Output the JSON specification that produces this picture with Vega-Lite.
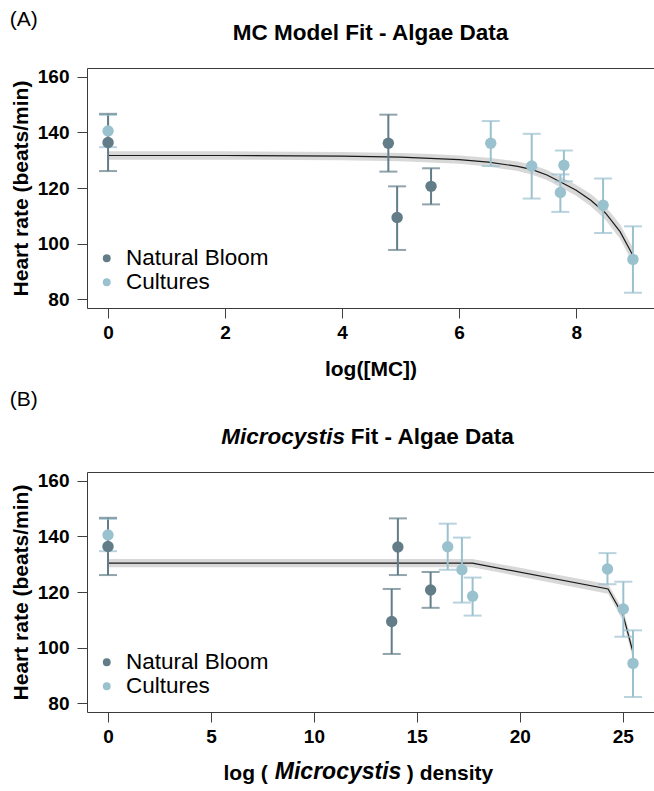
{
  "$schema": "https://vega.github.io/schema/vega-lite/v6.json",
  "background": "white",
  "padding": {"left": 9, "top": 8, "right": 0, "bottom": 0},
  "spacing": 8,
  "config": {
    "font": "Liberation Sans",
    "view": {"stroke": "#3a3a3a", "strokeWidth": 1},
    "axis": {
      "grid": false, "domain": false, "tickSize": 10, "tickColor": "#404040", "tickWidth": 1,
      "labelFont": "Liberation Sans", "labelFontSize": 19, "labelFontWeight": "bold", "labelColor": "black",
      "titleFont": "Liberation Sans", "titleFontSize": 21, "titleFontWeight": "bold", "titleColor": "black"
    },
    "axisX": {"labelPadding": 5, "titlePadding": 16},
    "axisY": {"labelPadding": 8, "titlePadding": 6},
    "title": {"font": "Liberation Sans", "color": "black"},
    "legend": {
      "orient": "none", "legendX": 8.5, "legendY": 179, "title": null,
      "symbolType": "circle", "symbolSize": 62, "symbolStrokeWidth": 0,
      "labelFont": "Liberation Sans", "labelFontSize": 22.5, "labelColor": "black",
      "labelOffset": 8, "rowPadding": 1, "padding": 0
    }
  },
  "resolve": {"scale": {"color": "independent"}, "legend": {"color": "independent"}},
  "datasets": {
    "ptsA": [
      {"group": "Cultures", "x": 0, "y": 140.5, "lo": 134.7, "hi": 146.3},
      {"group": "Cultures", "x": 6.54, "y": 136.1, "lo": 127.9, "hi": 144.1},
      {"group": "Cultures", "x": 7.24, "y": 127.9, "lo": 116.2, "hi": 139.5},
      {"group": "Cultures", "x": 7.79, "y": 128.2, "lo": 122.4, "hi": 133.5},
      {"group": "Cultures", "x": 7.73, "y": 118.4, "lo": 111.4, "hi": 124.9},
      {"group": "Cultures", "x": 8.46, "y": 113.8, "lo": 103.8, "hi": 123.4},
      {"group": "Cultures", "x": 8.97, "y": 94.3, "lo": 82.3, "hi": 106.2},
      {"group": "Natural Bloom", "x": 0, "y": 136.4, "lo": 126.1, "hi": 146.7},
      {"group": "Natural Bloom", "x": 4.79, "y": 136.1, "lo": 125.9, "hi": 146.4},
      {"group": "Natural Bloom", "x": 4.94, "y": 109.4, "lo": 97.7, "hi": 120.6},
      {"group": "Natural Bloom", "x": 5.52, "y": 120.6, "lo": 114.1, "hi": 127.1}
    ],
    "fitA": [
      {"x": 0, "fit": 131.7, "lo": 130.2, "hi": 133.2},
      {"x": 2, "fit": 131.7, "lo": 130.2, "hi": 133.2},
      {"x": 4, "fit": 131.5, "lo": 130.0, "hi": 133.0},
      {"x": 5, "fit": 131.1, "lo": 129.6, "hi": 132.6},
      {"x": 5.5, "fit": 130.7, "lo": 129.2, "hi": 132.2},
      {"x": 6, "fit": 130.2, "lo": 128.7, "hi": 131.7},
      {"x": 6.5, "fit": 129.3, "lo": 127.7, "hi": 130.9},
      {"x": 7, "fit": 127.8, "lo": 126.1, "hi": 129.5},
      {"x": 7.25, "fit": 126.6, "lo": 124.8, "hi": 128.4},
      {"x": 7.5, "fit": 124.7, "lo": 122.9, "hi": 126.5},
      {"x": 7.75, "fit": 122.0, "lo": 120.1, "hi": 123.9},
      {"x": 8, "fit": 119.2, "lo": 117.2, "hi": 121.2},
      {"x": 8.25, "fit": 115.6, "lo": 113.4, "hi": 117.8},
      {"x": 8.5, "fit": 111.0, "lo": 108.6, "hi": 113.4},
      {"x": 8.75, "fit": 104.3, "lo": 101.7, "hi": 106.9},
      {"x": 8.97, "fit": 95.7, "lo": 92.9, "hi": 98.5}
    ],
    "ptsB": [
      {"group": "Cultures", "x": 0, "y": 140.5, "lo": 134.7, "hi": 146.3},
      {"group": "Cultures", "x": 16.5, "y": 136.3, "lo": 128.0, "hi": 144.6},
      {"group": "Cultures", "x": 17.19, "y": 128.0, "lo": 116.2, "hi": 139.6},
      {"group": "Cultures", "x": 17.71, "y": 118.5, "lo": 111.5, "hi": 125.2},
      {"group": "Cultures", "x": 24.26, "y": 128.3, "lo": 122.8, "hi": 134.0},
      {"group": "Cultures", "x": 25.03, "y": 113.9, "lo": 103.9, "hi": 123.7},
      {"group": "Cultures", "x": 25.5, "y": 94.3, "lo": 82.2, "hi": 106.2},
      {"group": "Natural Bloom", "x": 0, "y": 136.4, "lo": 126.1, "hi": 146.7},
      {"group": "Natural Bloom", "x": 14.08, "y": 136.2, "lo": 126.1, "hi": 146.5},
      {"group": "Natural Bloom", "x": 13.78, "y": 109.4, "lo": 97.7, "hi": 121.1},
      {"group": "Natural Bloom", "x": 15.67, "y": 120.7, "lo": 114.3, "hi": 127.2}
    ],
    "fitB": [
      {"x": 0, "fit": 130.4, "lo": 128.9, "hi": 131.9},
      {"x": 17.7, "fit": 130.4, "lo": 128.9, "hi": 131.9},
      {"x": 24.29, "fit": 121.1, "lo": 119.4, "hi": 122.8},
      {"x": 25.03, "fit": 111.4, "lo": 109.4, "hi": 113.4},
      {"x": 25.5, "fit": 98.3, "lo": 95.9, "hi": 100.7}
    ]
  },
  "vconcat": [
    {
      "title": {"text": "(A)", "anchor": "start", "frame": "bounds", "fontSize": 21, "fontWeight": "normal", "offset": -8},
      "vconcat": [
        {
          "width": 567, "height": 240,
          "title": {"text": "MC Model Fit - Algae Data", "fontSize": 22.5, "fontWeight": "bold", "offset": 23},
          "layer": [
            {
              "data": {"name": "fitA"},
              "mark": {"type": "area", "color": "#d4d4d4", "opacity": 0.9},
              "encoding": {
                "x": {"field": "x", "type": "quantitative", "scale": {"domain": [-0.36, 9.33], "nice": false, "zero": false},
                      "axis": {"values": [0, 2, 4, 6, 8], "format": "d", "title": "log([MC])"}},
                "y": {"field": "lo", "type": "quantitative", "scale": {"domain": [76.8, 163.2], "nice": false, "zero": false},
                      "axis": {"values": [80, 100, 120, 140, 160], "title": "Heart rate (beats/min)"}},
                "y2": {"field": "hi"}
              }
            },
            {
              "data": {"name": "fitA"},
              "mark": {"type": "line", "color": "#1a1a1a", "strokeWidth": 1.2},
              "encoding": {"x": {"field": "x", "type": "quantitative"}, "y": {"field": "fit", "type": "quantitative"}}
            },
            {
              "data": {"name": "ptsA"},
              "mark": {"type": "rule", "strokeWidth": 2},
              "encoding": {
                "x": {"field": "x", "type": "quantitative"}, "y": {"field": "lo", "type": "quantitative"}, "y2": {"field": "hi"},
                "color": {"condition": {"test": "datum.group === 'Cultures'", "value": "#9ac1ce"}, "value": "#627d87"}
              }
            },
            {
              "data": {"name": "ptsA"},
              "mark": {"type": "tick", "orient": "horizontal", "size": 18, "thickness": 2},
              "encoding": {
                "x": {"field": "x", "type": "quantitative"}, "y": {"field": "lo", "type": "quantitative"},
                "color": {"condition": {"test": "datum.group === 'Cultures'", "value": "#9ac1ce"}, "value": "#627d87"}
              }
            },
            {
              "data": {"name": "ptsA"},
              "mark": {"type": "tick", "orient": "horizontal", "size": 18, "thickness": 2},
              "encoding": {
                "x": {"field": "x", "type": "quantitative"}, "y": {"field": "hi", "type": "quantitative"},
                "color": {"condition": {"test": "datum.group === 'Cultures'", "value": "#9ac1ce"}, "value": "#627d87"}
              }
            },
            {
              "data": {"name": "ptsA"},
              "mark": {"type": "circle", "size": 130, "opacity": 1},
              "encoding": {
                "x": {"field": "x", "type": "quantitative"}, "y": {"field": "y", "type": "quantitative"},
                "color": {"field": "group", "type": "nominal",
                          "scale": {"domain": ["Natural Bloom", "Cultures"], "range": ["#627d87", "#9ac1ce"]},
                          "legend": {}}
              }
            }
          ]
        }
      ]
    },
    {
      "title": {"text": "(B)", "anchor": "start", "frame": "bounds", "fontSize": 21, "fontWeight": "normal", "offset": 16},
      "vconcat": [
        {
          "title": {"text": "Fit - Algae Data", "anchor": "start", "frame": "bounds", "dx": 341, "fontSize": 22.5, "fontWeight": "bold", "offset": -22.5},
          "vconcat": [
            {
              "title": {"text": "Microcystis", "orient": "bottom", "anchor": "start", "frame": "bounds", "dx": 265, "fontSize": 23, "fontWeight": "bold", "fontStyle": "italic", "offset": -22.6},
              "vconcat": [
                {
                  "title": {"text": ") density", "orient": "bottom", "anchor": "start", "frame": "bounds", "dx": 397, "fontSize": 21, "fontWeight": "bold", "offset": -21},
                  "vconcat": [
                    {
                      "width": 567, "height": 240,
                      "title": {"text": "Microcystis", "anchor": "start", "frame": "bounds", "dx": 211, "fontSize": 22.5, "fontWeight": "bold", "fontStyle": "italic", "offset": 23},
                      "layer": [
                        {
                          "data": {"name": "fitB"},
                          "mark": {"type": "area", "color": "#d4d4d4", "opacity": 0.9},
                          "encoding": {
                            "x": {"field": "x", "type": "quantitative", "scale": {"domain": [-1.02, 26.52], "nice": false, "zero": false},
                                  "axis": {"values": [0, 5, 10, 15, 20, 25], "title": "log (", "titleX": 136, "titleAlign": "left"}},
                            "y": {"field": "lo", "type": "quantitative", "scale": {"domain": [76.8, 163.2], "nice": false, "zero": false},
                                  "axis": {"values": [80, 100, 120, 140, 160], "title": "Heart rate (beats/min)"}},
                            "y2": {"field": "hi"}
                          }
                        },
                        {
                          "data": {"name": "fitB"},
                          "mark": {"type": "line", "color": "#1a1a1a", "strokeWidth": 1.2},
                          "encoding": {"x": {"field": "x", "type": "quantitative"}, "y": {"field": "fit", "type": "quantitative"}}
                        },
                        {
                          "data": {"name": "ptsB"},
                          "mark": {"type": "rule", "strokeWidth": 2},
                          "encoding": {
                            "x": {"field": "x", "type": "quantitative"}, "y": {"field": "lo", "type": "quantitative"}, "y2": {"field": "hi"},
                            "color": {"condition": {"test": "datum.group === 'Cultures'", "value": "#9ac1ce"}, "value": "#627d87"}
                          }
                        },
                        {
                          "data": {"name": "ptsB"},
                          "mark": {"type": "tick", "orient": "horizontal", "size": 18, "thickness": 2},
                          "encoding": {
                            "x": {"field": "x", "type": "quantitative"}, "y": {"field": "lo", "type": "quantitative"},
                            "color": {"condition": {"test": "datum.group === 'Cultures'", "value": "#9ac1ce"}, "value": "#627d87"}
                          }
                        },
                        {
                          "data": {"name": "ptsB"},
                          "mark": {"type": "tick", "orient": "horizontal", "size": 18, "thickness": 2},
                          "encoding": {
                            "x": {"field": "x", "type": "quantitative"}, "y": {"field": "hi", "type": "quantitative"},
                            "color": {"condition": {"test": "datum.group === 'Cultures'", "value": "#9ac1ce"}, "value": "#627d87"}
                          }
                        },
                        {
                          "data": {"name": "ptsB"},
                          "mark": {"type": "circle", "size": 130, "opacity": 1},
                          "encoding": {
                            "x": {"field": "x", "type": "quantitative"}, "y": {"field": "y", "type": "quantitative"},
                            "color": {"field": "group", "type": "nominal",
                                      "scale": {"domain": ["Natural Bloom", "Cultures"], "range": ["#627d87", "#9ac1ce"]},
                                      "legend": {}}
                          }
                        }
                      ]
                    }
                  ]
                }
              ]
            }
          ]
        }
      ]
    }
  ]
}
